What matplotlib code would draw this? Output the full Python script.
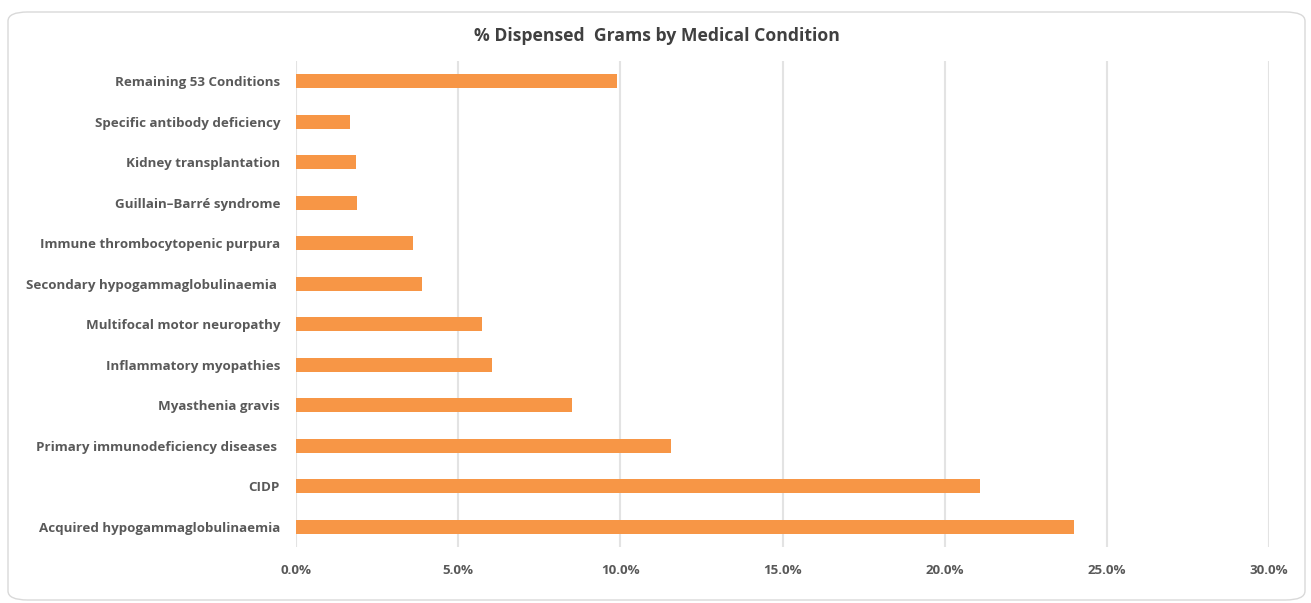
import matplotlib.pyplot as plt
from matplotlib.patches import FancyBboxPatch
from matplotlib.ticker import PercentFormatter

# conditions listed bottom to top
conditions = [
    "Acquired hypogammaglobulinaemia",
    "CIDP",
    "Primary immunodeficiency diseases ",
    "Myasthenia gravis",
    "Inflammatory myopathies",
    "Multifocal motor neuropathy",
    "Secondary hypogammaglobulinaemia ",
    "Immune thrombocytopenic purpura",
    "Guillain\u2013Barr\u00e9 syndrome",
    "Kidney transplantation",
    "Specific antibody deficiency",
    "Remaining 53 Conditions",
]
pct_grams = [24.0, 21.1, 11.55, 8.5, 6.05, 5.75, 3.9, 3.6, 1.88, 1.85, 1.66, 9.9]
x_ticks = [0, 5, 10, 15, 20, 25, 30]

plt.rcParams['font.family'] = ['Open Sans', 'DejaVu Sans']

fig = plt.figure(figsize=(13.11, 6.03), dpi=100)

# rounded frame around the chart area
frame = FancyBboxPatch((8 / 1311, 3 / 603), 1297 / 1311, 588 / 603,
                       boxstyle="round,pad=0,rounding_size=0.015",
                       transform=fig.transFigure, facecolor="none",
                       edgecolor="#d9d9d9", linewidth=1.0, zorder=0)
fig.patches.append(frame)

ax = fig.add_axes([296 / 1311, 56 / 603, 973 / 1311, 486 / 603])
ax.set_facecolor("none")
ax.set_zorder(2)

ax.barh(range(len(conditions)), pct_grams, height=0.35, color="#f79646", zorder=3)

ax.set_xlim(0, 30)
ax.set_ylim(-0.5, len(conditions) - 0.5)
ax.set_xticks(x_ticks)
ax.xaxis.set_major_formatter(PercentFormatter(decimals=1))
ax.set_yticks(range(len(conditions)))
ax.set_yticklabels(conditions)

ax.grid(axis="x", color="#e3e3e3", linewidth=1.5, zorder=0)
ax.set_axisbelow(True)
for s in ax.spines.values():
    s.set_visible(False)
ax.tick_params(axis="both", length=0, labelcolor="#595959")
ax.tick_params(axis="y", pad=11.5)
ax.tick_params(axis="x", pad=12)
for lbl in ax.get_yticklabels() + ax.get_xticklabels():
    lbl.set_fontweight("bold")
    lbl.set_fontsize(9.6)

fig.text(657 / 1311, 1 - 36 / 603, "% Dispensed  Grams by Medical Condition",
         ha="center", va="center", fontsize=12.7, fontweight="bold", color="#404040")

fig.savefig("out.png", dpi=100)
